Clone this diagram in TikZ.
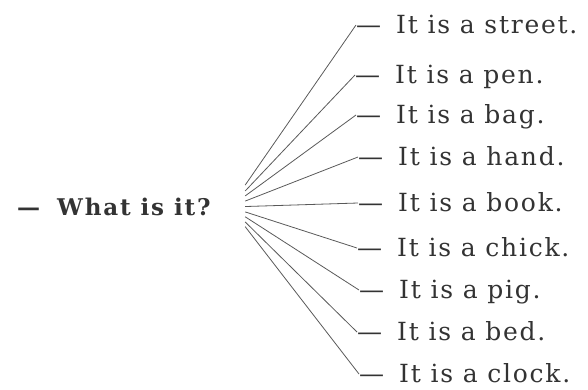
\documentclass[tikz,border=0pt]{standalone}
\usepackage{fontspec}
\setmainfont{DejaVu Serif}
\usepackage{tikz}

\tikzset{
  answer/.style={anchor=west,inner sep=0pt,text=black!80,text height=19pt,text depth=3pt,
    font=\fontsize{25}{29}\selectfont\addfontfeature{LetterSpace=7}},
  ray/.style={black!65,line width=0.8pt}
}
\newcommand{\dashgap}[1]{---\hspace{#1}}

\begin{document}
\begin{tikzpicture}[x=1pt,y=-1pt]
    \useasboundingbox (0,0) rectangle (588,389);

    %Question
    \node[anchor=base west,inner sep=0pt,text=black!80,
      font=\fontsize{23}{28}\selectfont\bfseries\addfontfeature{LetterSpace=8}] (q) at (17,215) {\dashgap{17pt}What is it?};
    \node[inner sep=0pt,minimum width=30pt,minimum height=60pt] (hub) at (230,207) {};

    %Answers
    \node[answer] (street) at (356,25) {\dashgap{15pt}It is a street.};
    \node[answer] (pen) at (355,75) {\dashgap{15pt}It is a pen.};
    \node[answer] (bag) at (356,115) {\dashgap{15pt}It is a bag.};
    \node[answer] (hand) at (358,157) {\dashgap{15pt}It is a hand.};
    \node[answer] (book) at (358,203) {\dashgap{15pt}It is a book.};
    \node[answer] (chick) at (357,248) {\dashgap{15pt}It is a chick.};
    \node[answer] (pig) at (359,290) {\dashgap{15pt}It is a pig.};
    \node[answer] (bed) at (357,332) {\dashgap{15pt}It is a bed.};
    \node[answer] (clock) at (359,374) {\dashgap{15pt}It is a clock.};

    \draw[ray] (hub) -- (street.west);
    \draw[ray] (hub) -- (pen.west);
    \draw[ray] (hub) -- (bag.west);
    \draw[ray] (hub) -- (hand.west);
    \draw[ray] (hub) -- (book.west);
    \draw[ray] (hub) -- (chick.west);
    \draw[ray] (hub) -- (pig.west);
    \draw[ray] (hub) -- (bed.west);
    \draw[ray] (hub) -- (clock.west);

\end{tikzpicture}
\end{document}
